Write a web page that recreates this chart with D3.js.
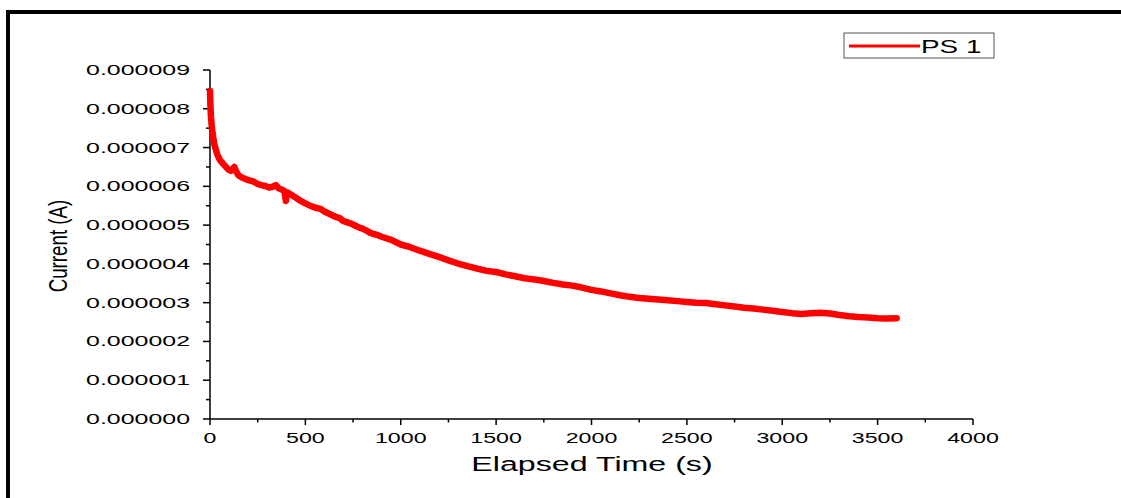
<!DOCTYPE html>
<html><head><meta charset="utf-8">
<script src="https://cdn.jsdelivr.net/npm/d3@7"></script>
<style>
html,body{margin:0;padding:0;background:#fff;}
svg{display:block;}
text{font-family:"Liberation Sans",Arial,sans-serif;fill:#000;}
</style></head>
<body>
<svg id="chart" width="1121" height="498"></svg>
<script>
const times = [
  0,2,5,10,16,22,30,40,52,65,
  80,95,110,120,128,135,150,170,190,210,
  230,250,270,290,310,330,345,360,375,390,
  398,402,420,440,470,500,530,560,580,600,
  630,660,680,700,720,740,760,780,800,820,
  840,860,880,
  900,950,1000,1050,1100,1150,1200,1250,1300,1350,
  1400,1450,1500,1550,1600,1650,1700,1750,1800,1850,
  1900,1950,2000,2050,2100,2150,2200,2250,2300,2350,
  2400,2450,2500,2550,2600,2650,2700,2750,2800,2850,
  2900,2950,3000,3050,3100,3150,3200,3250,3300,3350,
  3400,3450,3500,3550,3600];
const currents = [
  8.46e-6,8.10e-6,7.80e-6,7.50e-6,7.30e-6,7.10e-6,6.95e-6,6.80e-6,6.68e-6,6.60e-6,
  6.52e-6,6.44e-6,6.40e-6,6.45e-6,6.50e-6,6.40e-6,6.28e-6,6.22e-6,6.18e-6,6.15e-6,
  6.12e-6,6.06e-6,6.03e-6,6.01e-6,5.97e-6,5.99e-6,6.03e-6,5.95e-6,5.92e-6,5.88e-6,
  5.62e-6,5.85e-6,5.80e-6,5.74e-6,5.64e-6,5.56e-6,5.49e-6,5.44e-6,5.42e-6,5.35e-6,
  5.28e-6,5.21e-6,5.18e-6,5.10e-6,5.07e-6,5.04e-6,4.99e-6,4.94e-6,4.91e-6,4.86e-6,
  4.80e-6,4.77e-6,4.74e-6,
  4.70e-6,4.62e-6,4.50e-6,4.43e-6,4.34e-6,4.26e-6,4.18e-6,4.09e-6,4.01e-6,3.94e-6,
  3.88e-6,3.82e-6,3.79e-6,3.73e-6,3.68e-6,3.63e-6,3.60e-6,3.56e-6,3.51e-6,3.47e-6,
  3.44e-6,3.39e-6,3.33e-6,3.29e-6,3.24e-6,3.19e-6,3.15e-6,3.12e-6,3.10e-6,3.08e-6,
  3.06e-6,3.04e-6,3.02e-6,3.00e-6,2.99e-6,2.96e-6,2.93e-6,2.90e-6,2.87e-6,2.85e-6,
  2.82e-6,2.79e-6,2.76e-6,2.73e-6,2.71e-6,2.73e-6,2.74e-6,2.72e-6,2.68e-6,2.65e-6,
  2.63e-6,2.62e-6,2.60e-6,2.59e-6,2.60e-6];
const xTicks = [0,500,1000,1500,2000,2500,3000,3500,4000];
const yTicks = [0,1e-6,2e-6,3e-6,4e-6,5e-6,6e-6,7e-6,8e-6,9e-6];
const seriesName = "PS 1";
const xTitle = "Elapsed Time (s)";
const yTitle = "Current (A)";

const svg = d3.select("#chart");
const x = d3.scaleLinear().domain([0,4000]).range([210,973]);
const y = d3.scaleLinear().domain([0,9e-6]).range([419,70]);

// outer frame (partially cropped)
svg.append("rect").attr("x",8).attr("y",12).attr("width",1300).attr("height",700)
  .attr("fill","none").attr("stroke","#000").attr("stroke-width",4);

// x axis
const xMinor = d3.range(250,4000,500);
const gx = svg.append("g").attr("transform","translate(0,419)");
gx.append("line").attr("x1",x(0)).attr("x2",x(4000)).attr("stroke","#000").attr("stroke-width",1.5);
gx.selectAll(".mj").data(xTicks).join("line").attr("x1",d=>x(d)).attr("x2",d=>x(d)).attr("y1",0).attr("y2",6).attr("stroke","#000").attr("stroke-width",1.5);
gx.selectAll(".mn").data(xMinor).join("line").attr("x1",d=>x(d)).attr("x2",d=>x(d)).attr("y1",0).attr("y2",3.5).attr("stroke","#000").attr("stroke-width",1.5);
gx.selectAll(".lb").data(xTicks).join("text")
  .attr("transform",d=>`translate(${x(d)},24) scale(1.6,1)`)
  .attr("text-anchor","middle").attr("font-size",14.5).text(d=>d);

// y axis
const yMinor = d3.range(0.5e-6,9e-6,1e-6);
const gy = svg.append("g").attr("transform","translate(210,0)");
gy.append("line").attr("y1",y(0)).attr("y2",y(9e-6)).attr("stroke","#000").attr("stroke-width",1.5);
gy.selectAll(".mj").data(yTicks).join("line").attr("y1",d=>y(d)).attr("y2",d=>y(d)).attr("x1",0).attr("x2",-7).attr("stroke","#000").attr("stroke-width",1.5);
gy.selectAll(".mn").data(yMinor).join("line").attr("y1",d=>y(d)).attr("y2",d=>y(d)).attr("x1",0).attr("x2",-4).attr("stroke","#000").attr("stroke-width",1.5);
gy.selectAll(".lb").data(yTicks).join("text")
  .attr("transform",d=>`translate(-20,${y(d)+5}) scale(1.72,1)`)
  .attr("text-anchor","end").attr("font-size",14.5).text(d=>d.toFixed(6));

// axis titles
svg.append("text").attr("transform","translate(592,471) scale(1.65,1)")
  .attr("text-anchor","middle").attr("font-size",19.5).text(xTitle);
svg.append("text").attr("transform","translate(67,246) rotate(-90) scale(0.75,1)")
  .attr("text-anchor","middle").attr("font-size",25).text(yTitle);

// series
const line = d3.line().x(d=>x(d[0])).y(d=>y(d[1]));
const pts = times.map((t,i)=>[t,currents[i]]);
svg.append("path").datum(pts).attr("d",line).attr("fill","none")
  .attr("stroke","#ff0000").attr("stroke-width",6.5).attr("stroke-linejoin","round").attr("stroke-linecap","round");

// legend
const lg = svg.append("g");
lg.append("rect").attr("x",844).attr("y",33).attr("width",150).attr("height",25)
  .attr("fill","#fff").attr("stroke","#555").attr("stroke-width",1);
lg.append("line").attr("x1",849).attr("x2",920).attr("y1",46).attr("y2",46).attr("stroke","#ff0000").attr("stroke-width",3);
lg.append("text").attr("transform","translate(921,53) scale(1.55,1)").attr("font-size",18).text(seriesName);
</script>
</body></html>
